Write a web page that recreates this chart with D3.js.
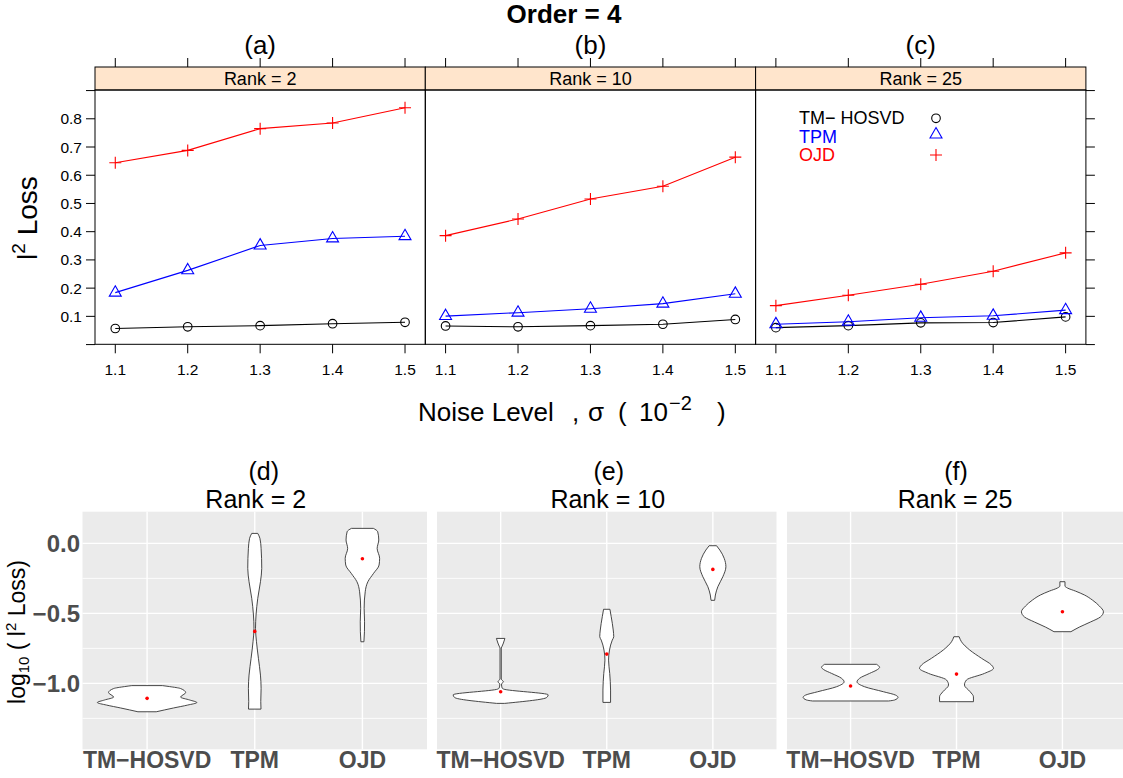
<!DOCTYPE html>
<html><head><meta charset="utf-8">
<script src="https://cdn.jsdelivr.net/npm/d3@7"></script>
<style>
body{margin:0;background:#fff}
text{font-family:"Liberation Sans",Arial,Helvetica,sans-serif}
</style></head>
<body><svg id="c" width="1123" height="778"></svg>
<script>
// ---------------- DATA ----------------
const noiseLevels = [1.1, 1.2, 1.3, 1.4, 1.5];
const ranks = [2, 10, 25];
const panelLetters = ["(a)", "(b)", "(c)"];
const violinLetters = ["(d)", "(e)", "(f)"];
const legendLabels = ["TM\u2212 HOSVD", "TPM", "OJD"];
const yTicksTop = [0.0, 0.1, 0.2, 0.3, 0.4, 0.5, 0.6, 0.7, 0.8, 0.9];
const yTickLabelsTop = ["", "0.1", "0.2", "0.3", "0.4", "0.5", "0.6", "0.7", "0.8", ""];

// l2 loss per rank (rows: rank 2, 10, 25)
const tmHosvdLoss = [
  [0.057, 0.063, 0.067, 0.074, 0.079],
  [0.066, 0.063, 0.067, 0.072, 0.089],
  [0.060, 0.067, 0.077, 0.078, 0.098]
];
const tpmLoss = [
  [0.184, 0.263, 0.351, 0.376, 0.384],
  [0.101, 0.113, 0.127, 0.145, 0.180],
  [0.072, 0.081, 0.095, 0.102, 0.122]
];
const ojdLoss = [
  [0.644, 0.688, 0.765, 0.785, 0.839],
  [0.386, 0.445, 0.516, 0.561, 0.664],
  [0.138, 0.175, 0.214, 0.260, 0.325]
];

// violin panels: categories and log10 loss profiles [value, half-width (fraction of category step)]
const violinCats = ["TM\u2212HOSVD", "TPM", "OJD"];
const yTicksBottom = [0.0, -0.5, -1.0];
const yMinorBottom = [-0.25, -0.75, -1.25];

const r2Tm = [[-1.016,0.142],[-1.023,0.208],[-1.037,0.311],[-1.066,0.358],[-1.098,0.311],[-1.119,0.396],[-1.137,0.462],[-1.155,0.377],[-1.176,0.245],[-1.203,0.085]];
const r2Tpm = [[0.071,0.028],[0.036,0.048],[-0.036,0.059],[-0.179,0.065],[-0.274,0.053],[-0.393,0.028],[-0.512,0.012],[-0.607,0.007],[-0.703,0.016],[-0.821,0.034],[-0.941,0.053],[-1.036,0.059],[-1.131,0.056],[-1.184,0.058]];
const r2Ojd = [[0.107,0.102],[0.083,0.142],[0.024,0.152],[-0.036,0.137],[-0.107,0.160],[-0.155,0.155],[-0.214,0.104],[-0.274,0.051],[-0.346,0.026],[-0.464,0.016],[-0.560,0.020],[-0.631,0.019],[-0.703,0.014]];
const r10Tm = [[-0.679,0.040],[-0.712,0.026],[-0.734,0.014],[-0.748,0.006],[-0.969,0.006],[-0.989,0.026],[-1.005,0.008],[-1.034,0.014],[-1.041,0.028],[-1.082,0.448],[-1.101,0.434],[-1.143,0.038]];
const r10Tpm = [[-0.471,0.030],[-0.524,0.042],[-0.619,0.061],[-0.667,0.066],[-0.691,0.052],[-0.762,0.026],[-0.834,0.017],[-0.929,0.028],[-1.048,0.036],[-1.136,0.036]];
const r10Ojd = [[-0.017,0.035],[-0.048,0.066],[-0.107,0.107],[-0.167,0.123],[-0.239,0.094],[-0.310,0.047],[-0.369,0.024],[-0.407,0.017]];
const r25Tm = [[-0.864,0.245],[-0.886,0.274],[-0.901,0.255],[-0.929,0.179],[-0.964,0.085],[-0.989,0.061],[-1.024,0.132],[-1.060,0.311],[-1.084,0.425],[-1.100,0.448],[-1.119,0.415],[-1.126,0.358]];
const r25Tpm = [[-0.667,0.025],[-0.703,0.047],[-0.762,0.125],[-0.821,0.236],[-0.869,0.330],[-0.893,0.349],[-0.929,0.264],[-0.976,0.094],[-1.012,0.075],[-1.060,0.129],[-1.096,0.160],[-1.131,0.160]];
const r25Ojd = [[-0.274,0.024],[-0.305,0.024],[-0.319,0.047],[-0.341,0.123],[-0.369,0.208],[-0.405,0.283],[-0.448,0.349],[-0.489,0.387],[-0.526,0.358],[-0.562,0.264],[-0.598,0.160],[-0.631,0.080]];
const violinMedians = [
  [-1.107, -0.629, -0.110],
  [-1.060, -0.791, -0.186],
  [-1.019, -0.934, -0.489]
];

// ---------------- DRAW ----------------
const svg = d3.select("#c");
const seriesData = [tmHosvdLoss, tpmLoss, ojdLoss];
const seriesColor = ["#000000", "#0000FF", "#FF0000"];

function drawMarker(g, k, x, y) {
  if (k === 0) {
    g.append("circle").attr("cx", x).attr("cy", y).attr("r", 4.3)
      .attr("fill", "none").attr("stroke", seriesColor[0]).attr("stroke-width", 1.1);
  } else if (k === 1) {
    g.append("path").attr("transform", `translate(${x},${y})`)
      .attr("d", d3.symbol(d3.symbolTriangle, 62)())
      .attr("fill", "none").attr("stroke", seriesColor[1]).attr("stroke-width", 1.1);
  } else {
    g.append("path").attr("d", `M${x-6},${y}H${x+6}M${x},${y-6}V${y+6}`)
      .attr("stroke", seriesColor[2]).attr("stroke-width", 1.1);
  }
}

// Top lattice panels
const pLeft = 95, pW = 330.3, pTop = 90, pBot = 344.3, sTop = 67;
const yTop = d3.scaleLinear().domain([0.001, 0.902]).range([pBot, pTop]);

svg.append("text").attr("x", 564).attr("y", 23).attr("text-anchor", "middle")
  .attr("font-size", 26).attr("font-weight", "bold").text("Order = 4");

ranks.forEach((r, i) => {
  const x0 = pLeft + i * pW, x1 = x0 + pW;
  const xs = d3.scaleLinear().domain([1.072, 1.528]).range([x0, x1]);
  const g = svg.append("g");
  g.append("text").attr("x", (x0 + x1) / 2).attr("y", 54).attr("text-anchor", "middle")
    .attr("font-size", 26).text(panelLetters[i]);
  g.append("rect").attr("x", x0).attr("y", sTop).attr("width", pW).attr("height", pTop - sTop)
    .attr("fill", "#FFE5CC").attr("stroke", "#000").attr("stroke-width", 1);
  g.append("text").attr("x", (x0 + x1) / 2).attr("y", pTop - 5).attr("text-anchor", "middle")
    .attr("font-size", 18).text(`Rank = ${r}`);
  g.append("rect").attr("x", x0).attr("y", pTop).attr("width", pW).attr("height", pBot - pTop)
    .attr("fill", "none").attr("stroke", "#000").attr("stroke-width", 1);
  noiseLevels.forEach(v => {
    g.append("line").attr("x1", xs(v)).attr("x2", xs(v)).attr("y1", sTop).attr("y2", sTop - 9).attr("stroke", "#000");
    g.append("line").attr("x1", xs(v)).attr("x2", xs(v)).attr("y1", pBot).attr("y2", pBot + 9).attr("stroke", "#000");
    g.append("text").attr("x", xs(v)).attr("y", 374.5).attr("text-anchor", "middle")
      .attr("font-size", 15.5).text(v.toFixed(1));
  });
  if (i === 0) {
    yTicksTop.forEach((v, j) => {
      g.append("line").attr("x1", x0).attr("x2", x0 - 9).attr("y1", yTop(v)).attr("y2", yTop(v)).attr("stroke", "#000");
      if (yTickLabelsTop[j]) g.append("text").attr("x", x0 - 13).attr("y", yTop(v)).attr("dy", "0.36em")
        .attr("text-anchor", "end").attr("font-size", 15.5).text(yTickLabelsTop[j]);
    });
  }
  if (i === 2) {
    yTicksTop.forEach(v => {
      g.append("line").attr("x1", x1).attr("x2", x1 + 9).attr("y1", yTop(v)).attr("y2", yTop(v)).attr("stroke", "#000");
    });
  }
  seriesData.forEach((s, k) => {
    const vals = s[i];
    const line = d3.line().x((d, j) => xs(noiseLevels[j])).y(d => yTop(d));
    g.append("path").attr("d", line(vals)).attr("fill", "none")
      .attr("stroke", seriesColor[k]).attr("stroke-width", 1.1);
    vals.forEach((d, j) => drawMarker(g, k, xs(noiseLevels[j]), yTop(d)));
  });
  if (i === 2) {
    const ly = [124, 142.5, 160.5], my = [118.3, 134.5, 155];
    legendLabels.forEach((lab, k) => {
      g.append("text").attr("x", 799).attr("y", ly[k]).attr("font-size", 18)
        .attr("fill", seriesColor[k]).text(lab);
      drawMarker(g, k, 936, my[k]);
    });
  }
});

// Axis titles top
const yl = svg.append("text").attr("transform", "translate(37,218) rotate(-90)")
  .attr("text-anchor", "middle").attr("font-size", 28);
yl.append("tspan").text("l");
yl.append("tspan").attr("dy", -12).attr("font-size", 19).text("2");
yl.append("tspan").attr("dy", 12).text(" Loss");

const xl = svg.append("text").attr("y", 421).attr("font-size", 26);
xl.append("tspan").attr("x", 418).text("Noise Level");
xl.append("tspan").attr("x", 572).text(",");
xl.append("tspan").attr("x", 588).text("\u03C3");
xl.append("tspan").attr("x", 618).text("(");
xl.append("tspan").attr("x", 639).text("10");
xl.append("tspan").attr("x", 669).attr("dy", -11).attr("font-size", 20).text("\u22122");
xl.append("tspan").attr("x", 717).attr("dy", 11).text(")");

// Bottom ggplot violin panels
const bTop = 511.7, bBot = 749.3;
const yB = d3.scaleLinear().domain([-1.471, 0.226]).range([bBot, bTop]);
const bPanels = [[82.5, 427], [437, 776.5], [787, 1126]];
const violins = [[r2Tm, r2Tpm, r2Ojd], [r10Tm, r10Tpm, r10Ojd], [r25Tm, r25Tpm, r25Ojd]];

bPanels.forEach(([l, r], i) => {
  const g = svg.append("g");
  const x = d3.scalePoint().domain(violinCats).range([l, r]).padding(0.6);
  const w = d3.scaleLinear().domain([0, 1]).range([0, x.step()]);
  g.append("rect").attr("x", l).attr("y", bTop).attr("width", r - l).attr("height", bBot - bTop).attr("fill", "#EBEBEB");
  yMinorBottom.forEach(v => g.append("line").attr("x1", l).attr("x2", r).attr("y1", yB(v)).attr("y2", yB(v))
    .attr("stroke", "#fff").attr("stroke-width", 0.9));
  yTicksBottom.forEach(v => g.append("line").attr("x1", l).attr("x2", r).attr("y1", yB(v)).attr("y2", yB(v))
    .attr("stroke", "#fff").attr("stroke-width", 1.4));
  violinCats.forEach(c => g.append("line").attr("x1", x(c)).attr("x2", x(c)).attr("y1", bTop).attr("y2", bBot)
    .attr("stroke", "#fff").attr("stroke-width", 1.4));
  violinCats.forEach((c, k) => {
    const area = d3.area().curve(d3.curveMonotoneY)
      .y(d => yB(d[0])).x0(d => x(c) - w(d[1])).x1(d => x(c) + w(d[1]));
    g.append("path").attr("d", area(violins[i][k])).attr("fill", "#fff")
      .attr("stroke", "#333").attr("stroke-width", 0.9);
    g.append("circle").attr("cx", x(c)).attr("cy", yB(violinMedians[i][k])).attr("r", 1.8).attr("fill", "#FF0000");
    g.append("text").attr("x", x(c)).attr("y", 768).attr("text-anchor", "middle")
      .attr("font-size", 23).attr("font-weight", "bold").attr("fill", "#4D4D4D").text(c);
  });
  const mid = (l + Math.min(r, 1121)) / 2;
  g.append("text").attr("x", mid + (i === 0 ? 9 : 2)).attr("y", 480).attr("text-anchor", "middle")
    .attr("font-size", 25).text(violinLetters[i]);
  g.append("text").attr("x", mid + 1).attr("y", 508).attr("text-anchor", "middle")
    .attr("font-size", 25).text(`Rank = ${ranks[i]}`);
  if (i === 0) {
    yTicksBottom.forEach(v => g.append("text").attr("x", 80).attr("y", yB(v)).attr("dy", "0.36em")
      .attr("text-anchor", "end").attr("font-size", 24).attr("font-weight", "bold").attr("fill", "#4D4D4D")
      .text(v === 0 ? "0.0" : d3.format(".1f")(v).replace("-", "\u2212")));
  }
});

const yl2 = svg.append("text").attr("transform", "translate(25,632) rotate(-90)")
  .attr("text-anchor", "middle").attr("font-size", 23);
yl2.append("tspan").text("log");
yl2.append("tspan").attr("dy", 4).attr("font-size", 15).text("10");
yl2.append("tspan").attr("dy", -4).text(" ( l");
yl2.append("tspan").attr("dy", -9).attr("font-size", 15).text("2");
yl2.append("tspan").attr("dy", 9).text("  Loss)");
</script>
</body></html>
